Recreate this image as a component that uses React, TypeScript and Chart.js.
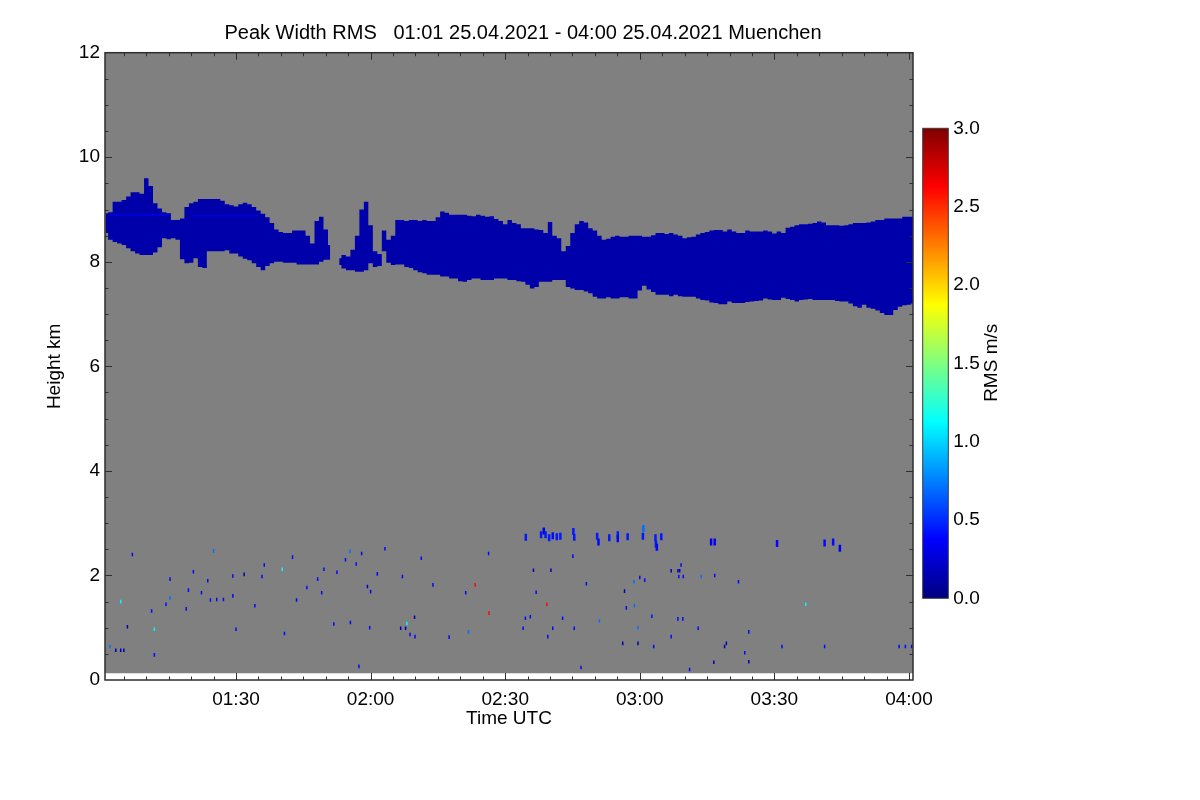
import { useEffect, useRef } from "react";
import { Chart, registerables } from "chart.js";
import type { ChartConfiguration, Plugin } from "chart.js";

Chart.register(...registerables);

const FONT = "'Liberation Sans', Arial, Helvetica, sans-serif";

const titleText = "Peak Width RMS   01:01 25.04.2021 - 04:00 25.04.2021 Muenchen";

// time axis in minutes after 00:00 UTC
const timeStart = 60.8;
const timeEnd = 240.9;
const timeTicks = [90, 120, 150, 180, 210, 240];
const heightTicks = [0, 2, 4, 6, 8, 10, 12];
const rmsTicks = [0, 0.5, 1, 1.5, 2, 2.5, 3];
const rmsMax = 3;

// lowest range gate that has data (km)
const dataFloor = 0.13;

// cirrus layer, 1 minute columns
const cloudTime = [
  61, 62, 63, 64, 65, 66, 67, 68, 69, 70,
  71, 72, 73, 74, 75, 76, 77, 78, 79, 80,
  81, 82, 83, 84, 85, 86, 87, 88, 89, 90,
  91, 92, 93, 94, 95, 96, 97, 98, 99, 100,
  101, 102, 103, 104, 105, 106, 107, 108, 109, 110,
  111, 112, 113, 114, 115, 116, 117, 118, 119, 120,
  121, 122, 123, 124, 125, 126, 127, 128, 129, 130,
  131, 132, 133, 134, 135, 136, 137, 138, 139, 140,
  141, 142, 143, 144, 145, 146, 147, 148, 149, 150,
  151, 152, 153, 154, 155, 156, 157, 158, 159, 160,
  161, 162, 163, 164, 165, 166, 167, 168, 169, 170,
  171, 172, 173, 174, 175, 176, 177, 178, 179, 180,
  181, 182, 183, 184, 185, 186, 187, 188, 189, 190,
  191, 192, 193, 194, 195, 196, 197, 198, 199, 200,
  201, 202, 203, 204, 205, 206, 207, 208, 209, 210,
  211, 212, 213, 214, 215, 216, 217, 218, 219, 220,
  221, 222, 223, 224, 225, 226, 227, 228, 229, 230,
  231, 232, 233, 234, 235, 236, 237, 238, 239, 240,
  241,
];
const cloudBase = [
  8.55, 8.42, 8.38, 8.35, 8.32, 8.26, 8.2, 8.16, 8.13, 8.13,
  8.13, 8.18, 8.28, 8.45, 8.43, 8.45, 8.42, 8.05, 7.97, 7.98,
  8.07, 7.9, 7.88, 8.2, 8.2, 8.2, 8.2, 8.22, 8.16, 8.16,
  8.1, 8.06, 8.03, 7.97, 7.9, 7.84, 7.92, 7.97, 8.0, 8.0,
  7.98, 7.98, 7.98, 7.95, 7.95, 7.95, 7.95, 7.95, 8.0, 8.04,
  8.04, null, 7.94, 7.87, 7.84, 7.84, 7.81, 7.81, 7.84, 7.97,
  7.9, 7.92, 8.2, 7.98, 7.94, 7.95, 7.95, 7.9, 7.88, 7.84,
  7.8, 7.78, 7.75, 7.75, 7.75, 7.72, 7.72, 7.68, 7.68, 7.63,
  7.62, 7.65, 7.68, 7.68, 7.65, 7.65, 7.65, 7.68, 7.68, 7.68,
  7.65, 7.65, 7.63, 7.62, 7.56, 7.49, 7.52, 7.62, 7.62, 7.62,
  7.65, 7.65, 7.65, 7.52, 7.49, 7.46, 7.46, 7.43, 7.4, 7.33,
  7.3, 7.3, 7.32, 7.3, 7.3, 7.32, 7.32, 7.3, 7.3, 7.45,
  7.54, 7.47, 7.42, 7.37, 7.37, 7.37, 7.34, 7.37, 7.34, 7.33,
  7.33, 7.33, 7.3, 7.27, 7.26, 7.22, 7.21, 7.19, 7.19, 7.24,
  7.21, 7.21, 7.21, 7.23, 7.24, 7.25, 7.26, 7.3, 7.28, 7.27,
  7.27, 7.31, 7.29, 7.27, 7.24, 7.27, 7.28, 7.29, 7.27, 7.27,
  7.27, 7.27, 7.27, 7.25, 7.24, 7.24, 7.2, 7.15, 7.12, 7.18,
  7.12, 7.1, 7.07, 7.02, 6.98, 6.98, 7.08, 7.14, 7.17, 7.18,
  7.2,
];
const cloudTop = [
  8.93, 8.95, 9.15, 9.15, 9.18, 9.25, 9.33, 9.33, 9.3, 9.6,
  9.45, 9.12, 9.02, 8.95, 8.93, 8.8, 8.8, 8.83, 9.05, 9.12,
  9.15, 9.2, 9.2, 9.2, 9.2, 9.2, 9.17, 9.1, 9.08, 9.06,
  9.1, 9.13, 9.1, 9.05, 8.98, 8.92, 8.85, 8.74, 8.62, 8.57,
  8.55, 8.55, 8.6, 8.6, 8.6, 8.5, 8.35, 8.78, 8.86, 8.62,
  8.32, null, 8.07, 8.13, 8.1, 8.23, 8.5, 9.0, 9.15, 8.7,
  8.2, 8.15, 8.6, 8.42, 8.5, 8.8, 8.8, 8.78, 8.8, 8.8,
  8.78, 8.8, 8.78, 8.78, 8.85, 8.96, 8.94, 8.9, 8.9, 8.9,
  8.9, 8.88, 8.87, 8.9, 8.88, 8.86, 8.87, 8.82, 8.78, 8.72,
  8.8, 8.74, 8.72, 8.64, 8.64, 8.64, 8.62, 8.61, 8.55, 8.76,
  8.5, 8.45, 8.2, 8.3, 8.55, 8.72, 8.78, 8.75, 8.64, 8.6,
  8.5, 8.42, 8.44, 8.48, 8.5, 8.48, 8.48, 8.5, 8.5, 8.5,
  8.48, 8.48, 8.51, 8.55, 8.55, 8.53, 8.55, 8.52, 8.5, 8.45,
  8.47, 8.48, 8.52, 8.55, 8.57, 8.6, 8.61, 8.61, 8.58, 8.62,
  8.58, 8.55, 8.55, 8.6, 8.58, 8.58, 8.58, 8.6, 8.58, 8.54,
  8.58, 8.55, 8.65, 8.67, 8.7, 8.72, 8.72, 8.73, 8.74, 8.77,
  8.75, 8.7, 8.7, 8.7, 8.69, 8.7, 8.72, 8.74, 8.74, 8.74,
  8.75, 8.77, 8.8, 8.8, 8.83, 8.83, 8.83, 8.83, 8.86, 8.86,
  8.86,
];
const cloudRms = 0.13;

// slightly wider return near the top of the early layer
const streakTime = [62, 75, 77, 80, 95];
const streakHeight = [8.9, 8.9, null, 8.88, 8.88];
const streakRms = 0.3;

// low broken layer near 2.7 km: [minute, km, rms]
const lowLayer: [number, number, number][] = [
  [154.6, 2.73, 0.45], [158.0, 2.78, 0.45], [158.6, 2.85, 0.3], [159.0, 2.78, 0.45], [159.8, 2.72, 0.45],
  [160.6, 2.76, 0.4], [161.5, 2.74, 0.45], [162.3, 2.75, 0.45], [165.2, 2.84, 0.45], [165.4, 2.73, 0.45],
  [170.5, 2.75, 0.45], [170.8, 2.64, 0.4], [173.2, 2.72, 0.45], [175.1, 2.78, 0.45], [175.1, 2.7, 0.4],
  [177.3, 2.74, 0.45], [180.7, 2.75, 0.45], [180.8, 2.9, 0.7], [183.5, 2.72, 0.45], [183.6, 2.6, 0.45],
  [183.8, 2.54, 0.4], [184.8, 2.74, 0.45], [195.9, 2.64, 0.35], [196.7, 2.64, 0.35], [210.6, 2.61, 0.4],
  [221.2, 2.62, 0.4], [223.1, 2.64, 0.4], [224.6, 2.52, 0.35],
];

// isolated boundary-layer returns: [minute, km, rms]
const speckles: [number, number, number][] = [
  [61.9, 0.64, 0.7], [63.2, 0.57, 0.15], [64.3, 0.57, 0.15], [65.0, 0.57, 0.15], [64.3, 1.5, 1.1],
  [66.9, 2.4, 0.4], [65.8, 1.02, 0.15], [71.2, 1.32, 0.4], [71.8, 0.97, 1.1], [71.8, 0.48, 0.4],
  [74.4, 1.45, 0.4], [75.3, 1.93, 0.4], [75.3, 1.57, 0.7], [78.9, 1.36, 0.4], [79.4, 1.72, 0.4],
  [80.5, 2.07, 0.4], [82.3, 1.67, 0.4], [83.7, 1.9, 0.4], [84.3, 1.53, 0.4], [85.0, 2.47, 0.7],
  [85.7, 1.54, 0.4], [87.2, 1.54, 0.4], [89.3, 1.61, 0.4], [89.3, 1.99, 0.4], [90.0, 0.97, 0.4],
  [91.8, 2.02, 0.15], [94.2, 1.42, 0.4], [95.8, 1.98, 0.4], [96.3, 2.2, 0.4], [100.3, 2.12, 1.1],
  [100.8, 0.89, 0.4], [102.6, 2.35, 0.4], [103.5, 1.53, 0.4], [105.8, 1.77, 0.4], [108.2, 1.93, 0.4],
  [109.1, 1.67, 0.4], [109.6, 2.12, 0.4], [111.8, 1.07, 0.4], [112.5, 2.06, 0.4], [114.4, 2.3, 0.4],
  [115.4, 2.46, 0.7], [115.5, 1.1, 0.4], [116.8, 2.22, 0.4], [117.4, 0.26, 0.4], [118.0, 2.42, 0.4],
  [119.3, 1.79, 0.15], [120.0, 1.69, 0.4], [119.8, 1.0, 0.4], [121.5, 2.03, 0.4], [123.2, 2.51, 0.4],
  [126.7, 0.99, 0.15], [127.8, 0.99, 0.15], [127.1, 1.98, 0.4], [128.1, 1.08, 1.1], [128.8, 0.87, 0.4],
  [129.8, 1.2, 0.15], [129.9, 0.83, 0.4], [131.3, 2.33, 0.4], [133.9, 1.82, 0.4], [137.5, 0.82, 0.4],
  [141.2, 1.67, 0.4], [141.8, 0.92, 0.7], [143.3, 1.82, 2.6], [146.3, 2.42, 0.4], [146.4, 1.28, 2.6],
  [165.1, 2.37, 0.4], [156.3, 2.1, 0.15], [160.2, 2.1, 0.15], [156.9, 1.68, 0.4], [159.3, 1.45, 2.6],
  [168.1, 1.84, 0.4], [154.5, 1.18, 0.4], [155.6, 1.21, 0.4], [154.0, 0.99, 0.4], [159.5, 0.83, 0.4],
  [160.6, 0.99, 0.4], [162.8, 1.18, 0.4], [165.4, 0.99, 0.4], [166.9, 0.24, 0.4], [171.0, 1.13, 0.7],
  [176.2, 0.7, 0.15], [176.6, 1.7, 0.15], [177.0, 1.38, 0.4], [178.7, 1.88, 0.7], [178.8, 1.42, 0.7],
  [179.6, 1.0, 0.7], [179.6, 0.7, 0.15], [180.0, 1.96, 0.4], [181.1, 1.91, 0.4], [182.7, 1.22, 0.4],
  [183.1, 0.64, 0.4], [187.0, 0.83, 0.4], [187.0, 2.09, 0.15], [188.5, 2.09, 0.15], [188.9, 2.09, 0.15],
  [189.2, 2.2, 0.4], [188.7, 1.98, 0.4], [189.7, 1.98, 0.4], [188.5, 1.17, 0.4], [189.6, 1.17, 0.4],
  [191.1, 0.2, 0.4], [193.0, 0.99, 0.4], [193.7, 1.98, 0.7], [196.7, 2.0, 0.4], [196.5, 0.34, 0.15],
  [198.9, 0.64, 0.15], [199.3, 0.7, 0.15], [202.0, 1.88, 0.4], [203.4, 0.52, 0.4], [204.3, 0.92, 0.4],
  [204.3, 0.35, 0.15], [211.7, 0.64, 0.4], [217.0, 1.45, 1.1], [221.2, 0.64, 0.4], [237.8, 0.64, 0.4],
  [239.2, 0.64, 0.4], [240.6, 0.64, 0.4],
];

// jet colour table
const jetStops = [0, 0.125, 0.375, 0.625, 0.875, 1];
const jetColours = [
  [0, 0, 127],
  [0, 0, 255],
  [0, 255, 255],
  [255, 255, 0],
  [255, 0, 0],
  [127, 0, 0],
];

function jet(v: number): string {
  const f = Math.min(Math.max(v / rmsMax, 0), 1);
  let i = 0;
  while (i < jetStops.length - 2 && f > jetStops[i + 1]) i++;
  const t = (f - jetStops[i]) / (jetStops[i + 1] - jetStops[i]);
  const a = jetColours[i];
  const b = jetColours[i + 1];
  const c = a.map((x, k) => Math.round(x + (b[k] - x) * t));
  return `rgb(${c[0]},${c[1]},${c[2]})`;
}

function clock(m: number): string {
  const h = Math.floor(m / 60);
  const mm = Math.round(m % 60);
  return `${String(h).padStart(2, "0")}:${String(mm).padStart(2, "0")}`;
}

// frame, inward ticks and the title
const framePlugin: Plugin = {
  id: "frame",
  afterDatasetsDraw(chart) {
    const { ctx, chartArea: a } = chart;
    const xs = chart.scales.x;
    const ys = chart.scales.y;
    ctx.save();
    ctx.strokeStyle = "#2e2e2e";
    ctx.lineWidth = 1;
    ctx.beginPath();
    for (let m = 65; m <= timeEnd; m += 5) {
      const px = Math.round(xs.getPixelForValue(m)) + 0.5;
      const len = m % 30 === 0 ? 7 : 3.5;
      ctx.moveTo(px, a.bottom);
      ctx.lineTo(px, a.bottom - len);
      ctx.moveTo(px, a.top);
      ctx.lineTo(px, a.top + len);
    }
    for (let h = 0.5; h < 12; h += 0.5) {
      const py = Math.round(ys.getPixelForValue(h)) + 0.5;
      const len = h % 2 === 0 ? 7 : 3.5;
      ctx.moveTo(a.left, py);
      ctx.lineTo(a.left + len, py);
      ctx.moveTo(a.right, py);
      ctx.lineTo(a.right - len, py);
    }
    ctx.stroke();
    ctx.lineWidth = 1.5;
    ctx.strokeRect(a.left, a.top, a.right - a.left, a.bottom - a.top);
    ctx.fillStyle = "#000";
    ctx.font = `20px ${FONT}`;
    ctx.textAlign = "center";
    ctx.textBaseline = "middle";
    ctx.fillText(titleText, (a.left + a.right) / 2 + 14, 33);
    ctx.restore();
  },
};

const barFramePlugin: Plugin = {
  id: "barFrame",
  afterDatasetsDraw(chart) {
    const { ctx, chartArea: a } = chart;
    ctx.save();
    ctx.strokeStyle = "#3a3a3a";
    ctx.lineWidth = 1;
    ctx.strokeRect(a.left, a.top, a.right - a.left, a.bottom - a.top);
    ctx.fillStyle = "#000";
    ctx.font = `19px ${FONT}`;
    ctx.textAlign = "center";
    ctx.textBaseline = "middle";
    ctx.translate(a.right + 43.5, (a.top + a.bottom) / 2 - 0.5);
    ctx.rotate(-Math.PI / 2);
    ctx.fillText("RMS m/s", 0, 0);
    ctx.restore();
  },
};

function PeakWidthChart() {
  const canvasRef = useRef<HTMLCanvasElement>(null);

  useEffect(() => {
    if (!canvasRef.current) return;

    const config: ChartConfiguration = {
      type: "scatter",
      data: {
        datasets: [
          {
            type: "line",
            data: [
              { x: timeStart, y: heightTicks[heightTicks.length - 1] },
              { x: timeEnd, y: heightTicks[heightTicks.length - 1] },
            ],
            fill: { value: dataFloor },
            backgroundColor: "#808080",
            borderWidth: 0,
            pointRadius: 0,
            order: 10,
          },
          {
            // cloud base: lower edge of the filled band
            type: "line",
            data: cloudTime.map((t, i) => ({ x: t, y: cloudBase[i] })),
            stepped: "middle",
            spanGaps: false,
            borderWidth: 0,
            pointRadius: 0,
            fill: false,
            order: 6,
          },
          {
            // cloud top, filled down to the base
            type: "line",
            data: cloudTime.map((t, i) => ({ x: t, y: cloudTop[i] })),
            stepped: "middle",
            spanGaps: false,
            borderWidth: 0,
            pointRadius: 0,
            fill: "-1",
            backgroundColor: jet(cloudRms),
            order: 5,
          },
          {
            type: "line",
            data: streakTime.map((t, i) => ({ x: t, y: streakHeight[i] })),
            borderColor: jet(streakRms),
            borderWidth: 1.5,
            pointRadius: 0,
            spanGaps: false,
            order: 4,
          },
          {
            type: "scatter",
            data: lowLayer.map(([t, h]) => ({ x: t, y: h })),
            pointStyle: "line",
            rotation: 90,
            radius: 3.5,
            borderWidth: 2.5,
            pointBorderColor: lowLayer.map(([, , r]) => jet(r)),
            order: 3,
          },
          {
            type: "scatter",
            data: speckles.map(([t, h]) => ({ x: t, y: h })),
            pointStyle: "line",
            rotation: 90,
            radius: 1.8,
            borderWidth: 1.5,
            pointBorderColor: speckles.map(([, , r]) => jet(r)),
            order: 2,
          },
        ],
      },
      options: {
        responsive: false,
        animation: false,
        events: [],
        layout: { padding: { top: 52.7, right: 287, left: 0, bottom: 0 } },
        plugins: { legend: { display: false }, tooltip: { enabled: false }, title: { display: false } },
        scales: {
          x: {
            type: "linear",
            min: timeStart,
            max: timeEnd,
            offset: false,
            afterBuildTicks: (s) => {
              s.ticks = timeTicks.map((value) => ({ value }));
            },
            afterFit: (s) => {
              s.height = 120;
            },
            grid: { display: false, drawTicks: false },
            border: { display: false },
            ticks: {
              color: "#000",
              font: { size: 19, family: FONT },
              padding: 8,
              maxRotation: 0,
              autoSkip: false,
              callback: (v) => clock(Number(v)),
            },
            title: {
              display: true,
              text: "Time UTC",
              color: "#000",
              font: { size: 19, family: FONT },
              padding: { top: 0, bottom: 69.6 },
            },
          },
          y: {
            type: "linear",
            min: 0,
            max: 12,
            afterBuildTicks: (s) => {
              s.ticks = heightTicks.map((value) => ({ value }));
            },
            afterFit: (s) => {
              s.width = 105;
            },
            grid: { display: false, drawTicks: false },
            border: { display: false },
            ticks: {
              color: "#000",
              font: { size: 19, family: FONT },
              padding: 5,
              callback: (v) => String(v),
            },
            title: {
              display: true,
              text: "Height km",
              color: "#000",
              font: { size: 19, family: FONT },
              padding: { top: 43.6, bottom: 0 },
            },
          },
        },
      },
      plugins: [framePlugin],
    };

    const chart = new Chart(canvasRef.current, config);
    return () => chart.destroy();
  }, []);

  return <canvas ref={canvasRef} width={1200} height={800} style={{ display: "block" }} />;
}

function ColourBar() {
  const canvasRef = useRef<HTMLCanvasElement>(null);

  useEffect(() => {
    if (!canvasRef.current) return;

    const config: ChartConfiguration = {
      type: "bar",
      data: {
        labels: ["RMS"],
        datasets: [
          {
            data: [[rmsTicks[0], rmsTicks[rmsTicks.length - 1]]],
            backgroundColor: (c) => {
              const area = c.chart.chartArea;
              if (!area) return "#000";
              const g = c.chart.ctx.createLinearGradient(0, area.bottom, 0, area.top);
              jetStops.forEach((s) => g.addColorStop(s, jet(s * rmsMax)));
              return g;
            },
            borderWidth: 0,
            barPercentage: 1,
            categoryPercentage: 1,
          },
        ],
      },
      options: {
        responsive: false,
        animation: false,
        events: [],
        layout: { padding: { top: 28.3, bottom: 21.7, left: 22.7, right: 0 } },
        plugins: { legend: { display: false }, tooltip: { enabled: false } },
        scales: {
          x: { display: false },
          y: {
            position: "right",
            min: 0,
            max: rmsMax,
            afterBuildTicks: (s) => {
              s.ticks = rmsTicks.map((value) => ({ value }));
            },
            afterFit: (s) => {
              s.width = 91.7;
            },
            grid: { display: false, drawTicks: false },
            border: { display: false },
            ticks: {
              color: "#000",
              font: { size: 19, family: FONT },
              padding: 5,
              callback: (v) => Number(v).toFixed(1),
            },
          },
        },
      },
      plugins: [barFramePlugin],
    };

    const chart = new Chart(canvasRef.current, config);
    return () => chart.destroy();
  }, []);

  return (
    <canvas
      ref={canvasRef}
      width={140}
      height={520}
      style={{ position: "absolute", left: 900, top: 100, display: "block" }}
    />
  );
}

export default function App() {
  return (
    <div style={{ position: "absolute", left: 0, top: 0, width: 1200, height: 800, background: "#fff" }}>
      <PeakWidthChart />
      <ColourBar />
    </div>
  );
}
